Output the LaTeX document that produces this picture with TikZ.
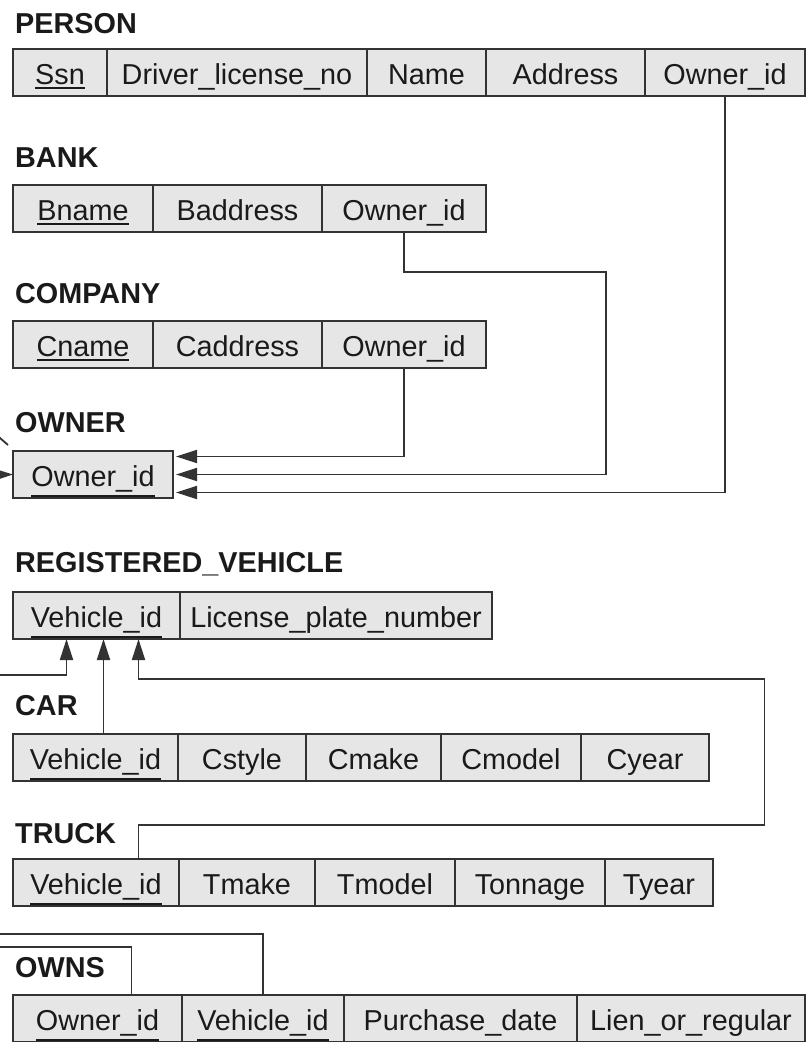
\documentclass[tikz,border=0pt]{standalone}
\usepackage{fontspec}
\setmainfont{Liberation Sans}
\usetikzlibrary{positioning,arrows.meta}

\definecolor{cellfill}{HTML}{E6E6E6}
\definecolor{rulegray}{HTML}{333333}
\definecolor{ink}{HTML}{1A1A1A}

\newcommand{\tablefont}{\fontsize{28.8pt}{34pt}\selectfont}
\newsavebox{\keybox}
\newcommand{\keyattr}[1]{\sbox{\keybox}{#1}\rlap{\rule[\dimexpr-\dp\keybox-5pt\relax]{\wd\keybox}{2pt}}\usebox{\keybox}}

\begin{document}
\begin{tikzpicture}[
  x = 1pt, y = -1pt,
  every node/.style = {text = ink, font = \tablefont},
  cell/.style = {draw = rulegray, line width = 1.8pt, fill = cellfill,
                 minimum height = 47pt, inner sep = 0pt, outer sep = 0pt,
                 text height = 26pt, text depth = 3pt, anchor = north west},
  cellright/.style = {cell, right = 0pt of #1},
  tabletitle/.style = {font = \tablefont\bfseries, anchor = base west, inner sep = 0pt},
  link/.style = {draw = rulegray, line width = 1.8pt},
  fk/.style = {link, -{Triangle[length = 21pt, width = 13pt]}},
  ]
  \useasboundingbox (0,0) rectangle (806,1042);
  \clip (0,0) rectangle (806,1042);

  \node[tabletitle] (person-title) at (15,33) {PERSON};
  \node[cell, minimum width = 94pt] (person-ssn) at (13,49) {\keyattr{Ssn}};
  \node[cellright = person-ssn, minimum width = 260pt] (person-dl) {Driver\_license\_no};
  \node[cellright = person-dl, minimum width = 119pt] (person-name) {Name};
  \node[cellright = person-name, minimum width = 159pt] (person-addr) {Address};
  \node[cellright = person-addr, minimum width = 160pt] (person-owner) {Owner\_id};

  \node[tabletitle] (bank-title) at (15,167) {BANK};
  \node[cell, minimum width = 140pt] (bank-name) at (13,185) {\keyattr{Bname}};
  \node[cellright = bank-name, minimum width = 169pt] (bank-addr) {Baddress};
  \node[cellright = bank-addr, minimum width = 164pt] (bank-owner) {Owner\_id};

  \node[tabletitle] (company-title) at (15,303) {COMPANY};
  \node[cell, minimum width = 140pt] (company-name) at (13,321) {\keyattr{Cname}};
  \node[cellright = company-name, minimum width = 169pt] (company-addr) {Caddress};
  \node[cellright = company-addr, minimum width = 164pt] (company-owner) {Owner\_id};

  \node[tabletitle] (owner-title) at (15,432) {OWNER};
  \node[cell, minimum width = 160pt] (owner-id) at (13,451) {\keyattr{Owner\_id}};

  \node[tabletitle] (rv-title) at (15,572) {REGISTERED\_VEHICLE};
  \node[cell, minimum width = 167pt] (rv-vid) at (13,592) {\keyattr{Vehicle\_id}};
  \node[cellright = rv-vid, minimum width = 312pt] (rv-plate) {License\_plate\_number};

  \node[tabletitle] (car-title) at (15,715) {CAR};
  \node[cell, minimum width = 165pt] (car-vid) at (13,734) {\keyattr{Vehicle\_id}};
  \node[cellright = car-vid, minimum width = 128pt] (car-style) {Cstyle};
  \node[cellright = car-style, minimum width = 135pt] (car-make) {Cmake};
  \node[cellright = car-make, minimum width = 140pt] (car-model) {Cmodel};
  \node[cellright = car-model, minimum width = 128pt] (car-year) {Cyear};

  \node[tabletitle] (truck-title) at (15,843) {TRUCK};
  \node[cell, minimum width = 166pt] (truck-vid) at (13,859) {\keyattr{Vehicle\_id}};
  \node[cellright = truck-vid, minimum width = 136pt] (truck-make) {Tmake};
  \node[cellright = truck-make, minimum width = 140pt] (truck-model) {Tmodel};
  \node[cellright = truck-model, minimum width = 150pt] (truck-tonnage) {Tonnage};
  \node[cellright = truck-tonnage, minimum width = 108pt] (truck-year) {Tyear};

  \node[tabletitle] (owns-title) at (15,977) {OWNS};
  \node[cell, minimum width = 169pt] (owns-owner) at (13,995) {\keyattr{Owner\_id}};
  \node[cellright = owns-owner, minimum width = 162pt] (owns-vid) {\keyattr{Vehicle\_id}};
  \node[cellright = owns-vid, minimum width = 233pt] (owns-date) {Purchase\_date};
  \node[cellright = owns-date, minimum width = 228pt] (owns-lien) {Lien\_or\_regular};

  \coordinate (owner-from) at (-40,475);
  \coordinate (stub-from) at (-8,431);
  \coordinate (stub-to) at (8,445);
  \coordinate (rv-from) at (-40,675);
  \coordinate (rv-in-car) at ([xshift = 7pt]rv-vid.south);
  \coordinate (rv-in-truck) at ([xshift = 42pt]rv-vid.south);
  \coordinate (owns-owner-to) at (-40,947);
  \coordinate (owns-vehicle-to) at (-40,934);

  \draw[fk, shorten >= 3pt] (person-owner.south) |- ([yshift = -18pt]owner-id.east);
  \draw[fk, shorten >= 3pt] (bank-owner.south) |- ++(202,40) |- (owner-id.east);
  \draw[fk, shorten >= 3pt] (company-owner.south) |- ([yshift = 18pt]owner-id.east);
  \draw[fk] (owner-from) -- (owner-id.west);
  \draw[link] (stub-from) -- (stub-to);

  \draw[fk] (rv-from) -| ([xshift = -30pt]rv-vid.south);
  \draw[fk] (rv-in-car |- car-vid.north) -- (rv-in-car);
  \draw[fk] (rv-in-truck |- truck-vid.north) -- ++(0,-34) -| ++(626,-146) -| (rv-in-truck);

  \draw[link] ([xshift = 34pt]owns-owner.north) |- (owns-owner-to);
  \draw[link] (owns-vid.north) |- (owns-vehicle-to);
\end{tikzpicture}
\end{document}
